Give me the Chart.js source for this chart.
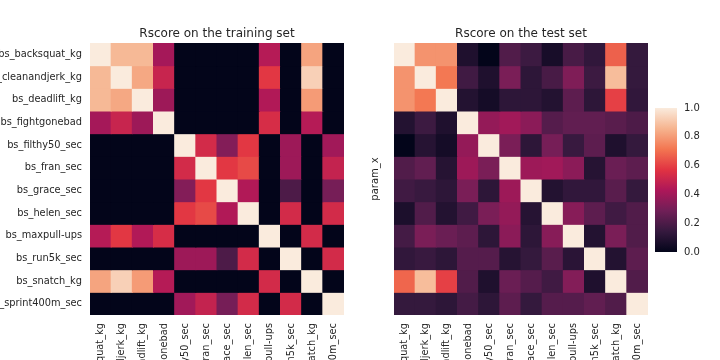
<!DOCTYPE html>
<html><head><meta charset="utf-8">
<script src="https://cdn.jsdelivr.net/npm/chart.js@4/dist/chart.umd.min.js"></script>
<style>
html,body{margin:0;padding:0;background:#fff;width:720px;height:360px;overflow:hidden;}
canvas{position:absolute;}
</style></head><body>
<canvas id="train" width="360" height="360" style="left:0;top:0"></canvas>
<canvas id="test" width="300" height="360" style="left:360px;top:0"></canvas>
<canvas id="cbar" width="80" height="170" style="left:640px;top:95px"></canvas>
<script>
const features = ["bs_backsquat_kg","bs_cleanandjerk_kg","bs_deadlift_kg","bs_fightgonebad","bs_filthy50_sec","bs_fran_sec","bs_grace_sec","bs_helen_sec","bs_maxpull-ups","bs_run5k_sec","bs_snatch_kg","bs_sprint400m_sec"];
const trainTitle = "Rscore on the training set";
const testTitle = "Rscore on the test set";
const testYLabel = "param_x";
const trainScores = [
  [1.00,0.87,0.87,0.41,0,0,0,0,0.45,0,0.82,0],
  [0.87,1.00,0.83,0.50,0,0,0,0,0.58,0,0.93,0],
  [0.87,0.83,1.00,0.39,0,0,0,0,0.44,0,0.80,0],
  [0.41,0.50,0.39,1.00,0,0,0,0,0.54,0,0.45,0],
  [0,0,0,0,1.00,0.53,0.33,0.58,0,0.39,0,0.40],
  [0,0,0,0,0.53,1.00,0.58,0.62,0,0.39,0,0.49],
  [0,0,0,0,0.33,0.58,1.00,0.44,0,0.20,0,0.30],
  [0,0,0,0,0.58,0.62,0.44,1.00,0,0.53,0,0.53],
  [0.45,0.58,0.44,0.54,0,0,0,0,1.00,0,0.53,0],
  [0,0,0,0,0.39,0.39,0.20,0.53,0,1.00,0,0.53],
  [0.82,0.93,0.80,0.45,0,0,0,0,0.53,0,1.00,0],
  [0,0,0,0,0.40,0.49,0.30,0.53,0,0.53,0,1.00]
];
const testScores = [
  [1.00,0.78,0.78,0.08,0.00,0.21,0.16,0.06,0.19,0.13,0.67,0.14],
  [0.78,1.00,0.72,0.17,0.08,0.31,0.12,0.19,0.32,0.16,0.88,0.14],
  [0.78,0.72,1.00,0.09,0.05,0.12,0.12,0.09,0.24,0.12,0.60,0.13],
  [0.09,0.16,0.08,1.00,0.37,0.40,0.35,0.22,0.25,0.25,0.23,0.20],
  [0.00,0.10,0.05,0.37,1.00,0.31,0.12,0.30,0.15,0.24,0.08,0.14],
  [0.21,0.25,0.10,0.39,0.31,1.00,0.39,0.40,0.35,0.10,0.27,0.24],
  [0.17,0.15,0.12,0.31,0.12,0.39,1.00,0.09,0.13,0.13,0.23,0.14],
  [0.07,0.21,0.09,0.17,0.31,0.37,0.10,1.00,0.34,0.24,0.17,0.21],
  [0.18,0.31,0.27,0.24,0.12,0.35,0.12,0.34,1.00,0.09,0.31,0.21],
  [0.13,0.15,0.12,0.22,0.22,0.10,0.14,0.23,0.11,1.00,0.09,0.24],
  [0.68,0.88,0.60,0.21,0.08,0.27,0.22,0.17,0.33,0.08,1.00,0.21],
  [0.14,0.14,0.12,0.18,0.12,0.24,0.14,0.22,0.22,0.25,0.21,1.00]
];
const colorbarTicks = [0.0,0.2,0.4,0.6,0.8,1.0];

// rocket colormap approximation
const ROCKET = [[0,[3,5,26]],[1/7,[53,25,62]],[2/7,[112,31,87]],[3/7,[173,23,89]],[4/7,[225,51,66]],[5/7,[243,118,81]],[6/7,[246,180,143]],[1,[250,235,221]]];
function rocket(v){
  v = Math.max(0, Math.min(1, v));
  for (let i=1;i<ROCKET.length;i++){
    const [p1,c1]=ROCKET[i-1],[p2,c2]=ROCKET[i];
    if (v<=p2){const t=(v-p1)/(p2-p1);
      return 'rgb('+c1.map((c,k)=>Math.round(c+(c2[k]-c)*t)).join(',')+')';}
  }
  return 'rgb(250,235,221)';
}
const TEXT = '#262626';
const FONT_FAMILY = '"DejaVu Sans", sans-serif';
const TICK_SIZE = 9.8;
Chart.defaults.font.family = FONT_FAMILY;
Chart.defaults.color = TEXT;

const titlePlugin = {id:'heatTitle', afterDraw(chart, args, opts){
  const {ctx, chartArea:a} = chart;
  ctx.save(); ctx.font = '12px ' + FONT_FAMILY; ctx.fillStyle = TEXT;
  ctx.textAlign='center'; ctx.textBaseline='alphabetic';
  ctx.fillText(opts.text, (a.left+a.right)/2, a.top - 6);
  ctx.restore();
}};

function heatDatasets(matrix){
  return matrix.map((row, r) => ({
    label: features[r],
    data: row.map(() => 1),
    backgroundColor: row.map(rocket),
    borderWidth: 0, barPercentage: 1, categoryPercentage: 1, inflateAmount: 0.5
  }));
}

function heatConfig(matrix, title, showYLabels, padRight){
  return {
    type: 'bar',
    data: {labels: features, datasets: heatDatasets(matrix)},
    plugins: [titlePlugin],
    options: {
      responsive: false, animation: false, events: [],
      layout: {padding: {left: 0, right: padRight, top: 43, bottom: 0}},
      plugins: {legend: {display: false}, tooltip: {enabled: false}, heatTitle: {text: title}},
      scales: {
        x: {stacked: true, grid: {display: false, drawTicks: false}, border: {display: false},
            ticks: {autoSkip: false, minRotation: 90, maxRotation: 90, padding: 8, font: {size: TICK_SIZE}, color: TEXT},
            afterFit: s => { s.height = 45; }},
        y: {type: 'linear', stacked: true, min: 0, max: features.length, reverse: true,
            grid: {display: false, drawTicks: false}, border: {display: false},
            afterBuildTicks: s => { s.ticks = features.map((_, i) => ({value: i + 0.5})); },
            ticks: {display: showYLabels, autoSkip: false, padding: 8, font: {size: TICK_SIZE}, color: TEXT,
                    callback: (v, i) => features[i]},
            title: {display: !showYLabels, text: testYLabel, font: {size: 10}, color: TEXT, padding: {top: 9, bottom: 0}},
            afterFit: s => { s.width = showYLabels ? 90 : 34; }}
      }
    }
  };
}

new Chart(document.getElementById('train'), heatConfig(trainScores, trainTitle, true, 16));
new Chart(document.getElementById('test'), heatConfig(testScores, testTitle, false, 12));

new Chart(document.getElementById('cbar'), {
  type: 'bar',
  data: {labels: [''], datasets: [{data: [1], borderWidth: 0, barPercentage: 1, categoryPercentage: 1,
    backgroundColor: (c) => {
      const a = c.chart.chartArea; if (!a) return null;
      const g = c.chart.ctx.createLinearGradient(0, a.bottom, 0, a.top);
      ROCKET.forEach(([p, col]) => g.addColorStop(p, 'rgb(' + col.join(',') + ')'));
      return g;
    }}]},
  options: {
    responsive: false, animation: false, events: [],
    layout: {padding: {left: 15, right: 0, top: 0, bottom: 0}},
    plugins: {legend: {display: false}, tooltip: {enabled: false}},
    scales: {
      x: {display: false},
      y: {position: 'right', min: 0, max: 1, grid: {display: false, drawTicks: false}, border: {display: false},
          afterBuildTicks: s => { s.ticks = colorbarTicks.map(v => ({value: v})); },
          ticks: {padding: 7, font: {size: 10}, color: TEXT, callback: v => Number(v).toFixed(1)},
          afterFit: s => { s.width = 43; }}
    }
  }
});
</script>
</body></html>
